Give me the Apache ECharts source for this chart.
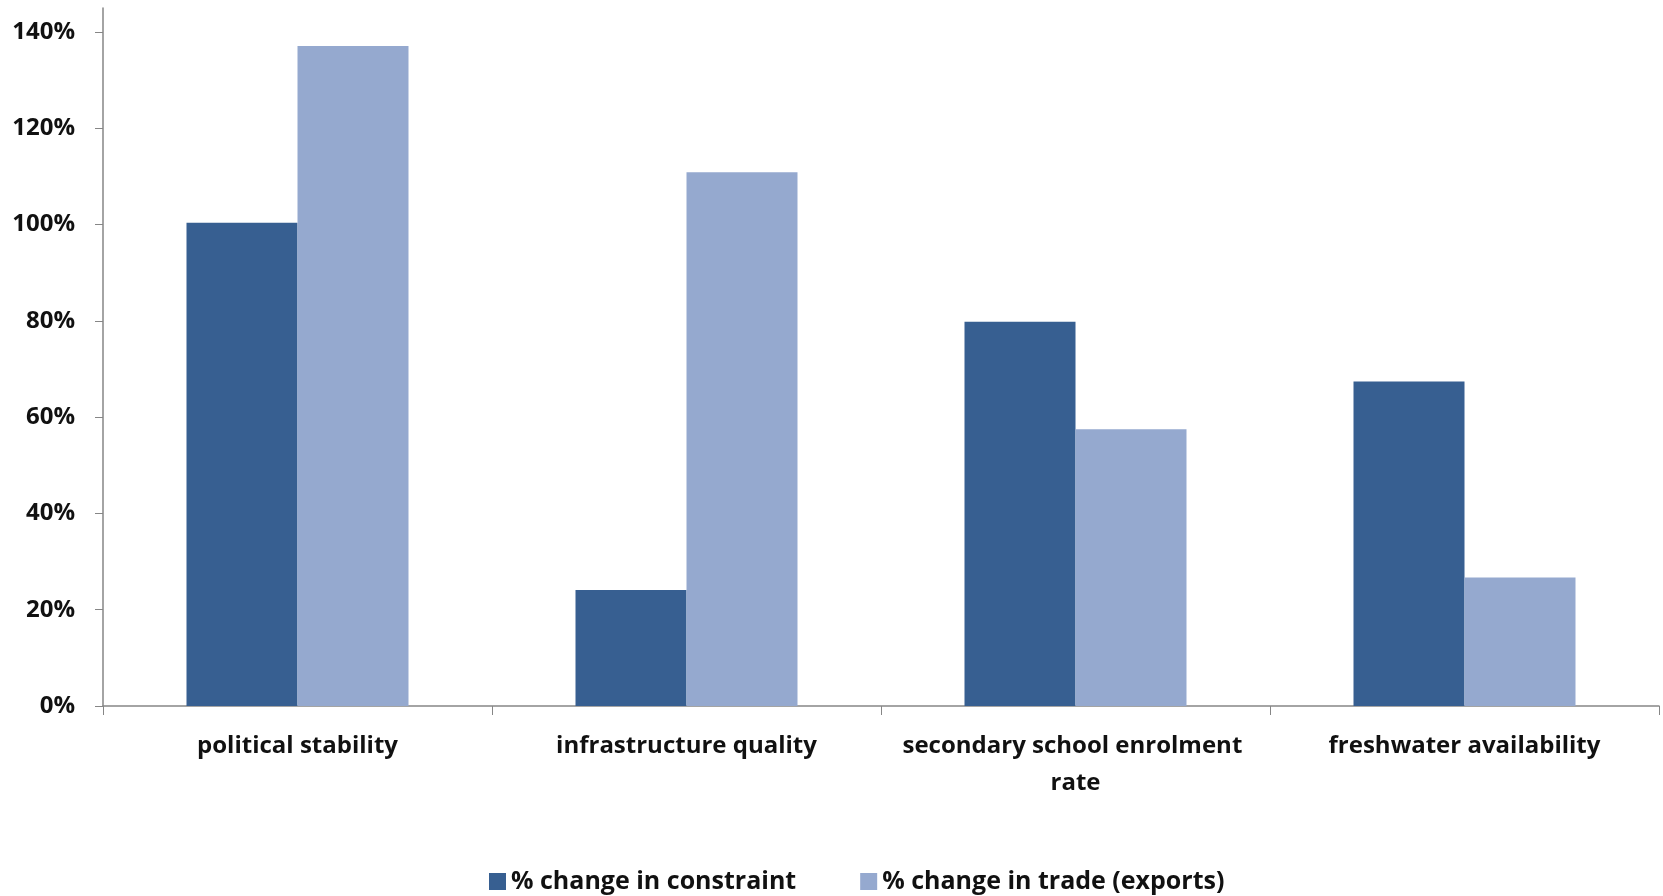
<!DOCTYPE html>
<html>
<head>
<meta charset="utf-8">
<script src="https://cdn.jsdelivr.net/npm/echarts@6/dist/echarts.min.js"></script>
<style>
  html, body { margin: 0; padding: 0; background: #fff; }
  #main { width: 1663px; height: 896px; }
</style>
</head>
<body>
<div id="main"></div>
<script>
var categories = ['political stability', 'infrastructure quality', 'secondary school enrolment rate', 'freshwater availability'];
var constraintData = [100.4, 24.1, 79.8, 67.4];
var tradeData = [137.1, 110.9, 57.5, 26.7];
var yTicks = [0, 20, 40, 60, 80, 100, 120, 140];

var chart = echarts.init(document.getElementById('main'));

var option = {
  backgroundColor: '#fff',
  animation: false,
  textStyle: { fontFamily: 'Open Sans' },
  grid: { left: 103, right: 4, top: 8, bottom: 190 },
  legend: {
    bottom: -3,
    left: 484,
    itemWidth: 17,
    itemHeight: 17,
    itemGap: 64,
    icon: 'rect',
    textStyle: { fontSize: 25, fontWeight: 'bold', color: '#111', fontFamily: 'Open Sans' },
    data: ['% change in constraint', '% change in trade (exports)']
  },
  xAxis: {
    type: 'category',
    data: categories,
    axisLine: { lineStyle: { color: '#868686', width: 1.5 } },
    axisTick: { show: true, length: 9, lineStyle: { color: '#868686' } },
    axisLabel: {
      interval: 0,
      margin: 22,
      fontSize: 24,
      fontWeight: 'bold',
      color: '#111',
      lineHeight: 37,
      width: 370,
      overflow: 'break'
    }
  },
  yAxis: {
    type: 'value',
    min: 0,
    max: 145,
    interval: 20,
    splitLine: { show: false },
    axisLine: { show: true, lineStyle: { color: '#868686', width: 1.5 } },
    axisTick: { show: true, length: 8, customValues: yTicks, lineStyle: { color: '#868686' } },
    axisLabel: {
      customValues: yTicks,
      formatter: '{value}%',
      margin: 28,
      fontSize: 24,
      fontWeight: 'bold',
      color: '#111'
    }
  },
  series: [
    {
      name: '% change in constraint',
      type: 'bar',
      data: constraintData,
      barWidth: 111,
      barGap: '0%',
      itemStyle: { color: '#375F91' }
    },
    {
      name: '% change in trade (exports)',
      type: 'bar',
      data: tradeData,
      barWidth: 111,
      barGap: '0%',
      itemStyle: { color: '#95A9CF' }
    }
  ]
};
chart.setOption(option);
</script>
</body>
</html>
